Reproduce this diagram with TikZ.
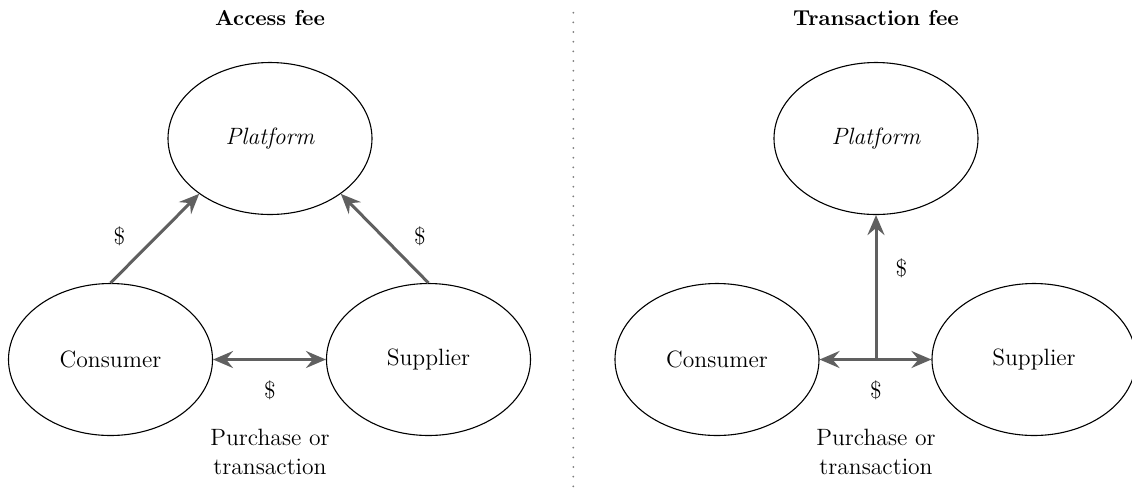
\documentclass[tikz,border=0pt]{standalone}
\usetikzlibrary{shapes.geometric,arrows.meta}
\definecolor{arrgray}{RGB}{96,96,96}
\definecolor{dotgray}{RGB}{125,125,125}
\begin{document}
\begin{tikzpicture}[x=0.5pt,y=-0.5pt,
  oval/.style={ellipse,draw=black,line width=0.55pt,minimum width=102pt,minimum height=76pt,inner sep=0pt,
    font=\fontsize{11.8}{14}\selectfont},
  tip/.style={Stealth[length=10pt,width=8.5pt,inset=3.5pt]},
  flow/.style={draw=arrgray,line width=1.5pt,-{Stealth[length=10pt,width=8.5pt,inset=3.5pt]}},
  both/.style={draw=arrgray,line width=1.5pt,{Stealth[length=10pt,width=8.5pt,inset=3.5pt]}-{Stealth[length=10pt,width=8.5pt,inset=3.5pt]}},
  lbl/.style={font=\fontsize{11.8}{14}\selectfont,inner sep=0pt},
  ttl/.style={font=\fontsize{10.8}{12}\selectfont\bfseries,inner sep=0pt},
  note/.style={font=\fontsize{11.8}{14.3}\selectfont,align=center,inner sep=0pt}]
\useasboundingbox (0,0) rectangle (1132,495);

% titles
\node[ttl] (t1) at (270,18) {Access fee};
\node[ttl] (t2) at (876,18) {Transaction fee};

% divider
\coordinate (d1) at (573.3,12.7);
\coordinate (d2) at (573.3,492.7);
\draw[dotgray,line width=1pt,line cap=round,dash pattern=on 0pt off 4.833pt] (d1) -- (d2);

% left diagram
\node[oval] (lp) at (270,138.5) {\itshape Platform};
\node[oval] (lc) at (110.5,359.5) {Consumer};
\node[oval] (ls) at (428.5,359.5) {Supplier};
\draw[flow] (lc.north) -- (lp.218);
\draw[flow] (ls.north) -- (lp.322);
\draw[both] (lc.east) -- (ls.west);
\node[lbl] (l1) at (119.5,236.5) {\$};
\node[lbl] (l2) at (420,236.5) {\$};
\node[lbl] (l3) at (270,390) {\$};
\node[note] (ln) at (270,452) {Purchase or\\transaction};

% right diagram
\node[oval] (rp) at (876,138.5) {\itshape Platform};
\node[oval] (rc) at (717,359.5) {Consumer};
\node[oval] (rs) at (1034,359.5) {Supplier};
\coordinate (j) at (876,359.5);
\draw[flow] (j) -- (rp.south);
\draw[flow] (j) -- (rc.east);
\draw[flow] (j) -- (rs.west);
\node[lbl] (r1) at (901.5,268) {\$};
\node[lbl] (r2) at (876,390) {\$};
\node[note] (rn) at (876,452) {Purchase or\\transaction};
\end{tikzpicture}
\end{document}
